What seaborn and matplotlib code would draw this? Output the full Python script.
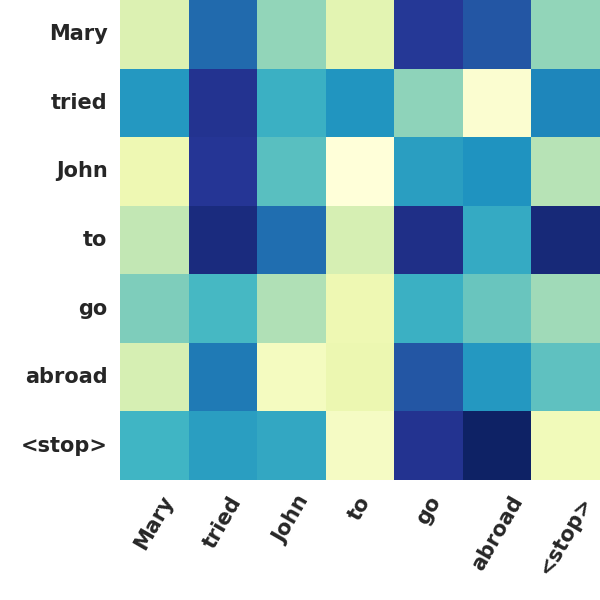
import matplotlib
matplotlib.use('Agg')
import matplotlib.pyplot as plt
import seaborn as sns
import numpy as np

words = ['Mary', 'tried', 'John', 'to', 'go', 'abroad', '<stop>']

# attention weights, rows = output words, cols = input words
row_mary = [0.18, 0.72, 0.34, 0.16, 0.86, 0.77, 0.34]
row_tried = [0.60, 0.88, 0.52, 0.61, 0.35, 0.03, 0.65]
row_john = [0.12, 0.87, 0.45, 0.00, 0.58, 0.62, 0.28]
row_to = [0.26, 0.92, 0.71, 0.20, 0.90, 0.54, 0.93]
row_go = [0.375, 0.49, 0.29, 0.12, 0.52, 0.42, 0.32]
row_abroad = [0.20, 0.68, 0.08, 0.13, 0.77, 0.60, 0.44]
row_stop = [0.50, 0.58, 0.55, 0.07, 0.88, 0.97, 0.10]

vals = np.array([row_mary, row_tried, row_john, row_to, row_go, row_abroad, row_stop])

sns.set_theme(style='white')
fig = plt.figure(figsize=(6, 6), dpi=100)
ax = fig.add_axes([0.2, 0.2, 0.8, 0.8])
sns.heatmap(vals, cmap='YlGnBu', vmin=0, vmax=1, cbar=False, square=True, ax=ax,
            xticklabels=words, yticklabels=words)
ax.set_xticklabels(words, rotation=60, fontsize=15, fontweight='bold')
ax.set_yticklabels(words, rotation=0, fontsize=15, fontweight='bold')
ax.tick_params(length=0, pad=9)
fig.savefig('out.png', dpi=100)
